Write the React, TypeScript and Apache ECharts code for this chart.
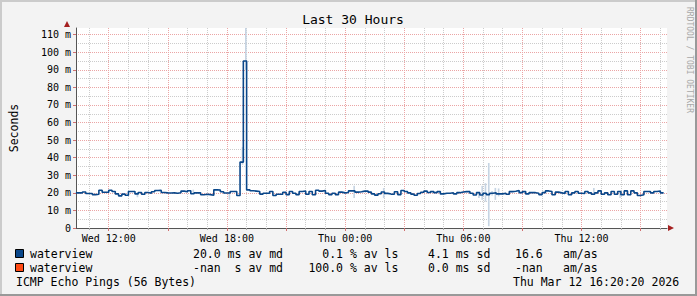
import React, { useEffect, useRef } from 'react';
import * as echarts from 'echarts';

// time axis in hours since Wed 00:00
const AXIS_MIN = 10 + 20 / 60 + 20 / 3600; // Wed 10:20:20
const AXIS_MAX = AXIS_MIN + 30; // Thu 16:20:20
const FIRST_SAMPLE_HOUR = 10 + 20 / 60;
const STEP_HOURS = 10 / 60;

const medianMs = [
  20.0,
  20.0, 20.0, 20.5, 19.6, 19.6, 19.0, 19.2, 21.5, 20.3, 20.4, 21.5, 20.8, 19.4, 18.3, 19.3, 18.6, 20.8, 20.8,
  19.4, 20.2, 19.2, 20.2, 19.8, 20.6, 21.3, 21.4, 20.2, 20.0, 19.9, 20.0, 19.8, 20.1, 21.0, 20.6, 21.2, 19.5,
  20.0, 20.0, 18.9, 19.2, 19.0, 18.6, 21.7, 21.6, 20.6, 19.9, 20.0, 20.8, 20.8, 18.5, 37.5, 95.0, 21.7, 21.2,
  21.0, 20.8, 19.3, 19.8, 19.8, 20.8, 18.5, 19.2, 19.2, 20.3, 19.0, 20.8, 19.8, 19.0, 20.8, 21.1, 19.2, 20.8, 18.9,
  21.5, 21.0, 21.3, 19.8, 19.0, 19.8, 19.0, 20.4, 20.0, 20.2, 21.1, 21.1, 20.4, 20.6, 21.0, 21.0, 20.4,
  19.4, 18.7, 19.5, 20.5, 19.7, 19.3, 19.2, 20.6, 19.0, 21.3, 20.8, 20.0, 19.3, 18.6, 19.6, 20.3, 21.0,
  20.2, 20.7, 20.1, 20.7, 19.4, 19.8, 19.8, 20.1, 19.4, 20.1, 20.5, 20.7, 20.7, 19.8, 18.8, 20.1, 18.8, 19.8,
  19.0, 19.8, 20.1, 19.4, 19.4, 19.8, 19.2, 20.7, 20.9, 21.3, 20.1, 20.7, 19.4, 20.1, 20.1, 19.8, 19.0, 20.1,
  21.1, 20.8, 18.9, 20.4, 20.0, 19.6, 20.8, 18.9, 20.0, 20.8, 19.8, 19.6, 20.8, 20.0, 19.2, 20.0, 21.1, 19.2,
  20.0, 18.9, 20.8, 19.2, 20.8, 18.9, 21.1, 18.9, 21.1, 20.0, 18.5, 18.9, 20.8, 20.8, 20.0, 20.8, 21.1, 20.0,
];

// visible ping spread ("smoke"), per sample index
const smokeIndex = [19, 36, 47, 51, 52, 85, 94, 123, 124, 125, 126, 127, 128, 129, 158, 166];
const smokeLow = [17.5, 19.5, 16.0, 36.0, 90.0, 17.0, 17.0, 17.0, 16.0, 15.0, 1.0, 18.5, 16.0, 18.0, 19.0, 17.0];
const smokeHigh = [20.5, 21.8, 20.5, 46.0, 150.0, 24.0, 22.7, 20.5, 24.0, 25.5, 37.0, 21.0, 22.8, 22.5, 22.7, 21.0];

const Y_MAX = 113.8;
const majorHours = [12, 15, 18, 21, 24, 27, 30, 33, 36, 39];
const minorHours = [11, 13, 14, 16, 17, 19, 20, 22, 23, 25, 26, 28, 29, 31, 32, 34, 35, 37, 38, 40];
const labelHours = [12, 18, 24, 30, 36];
const labelTexts = ['Wed 12:00', 'Wed 18:00', 'Thu 00:00', 'Thu 06:00', 'Thu 12:00'];

const TITLE = 'Last 30 Hours';
const Y_NAME = 'Seconds';
const CREDIT = 'RRDTOOL / TOBI OETIKER';
const legendName = ['waterview', 'waterview'];
const legendColor = ['#0a478a', '#ff4a14'];
const legendMd = ['20.0 ms av md', '-nan  s av md'];
const legendLoss = ['0.1', '100.0'];
const legendSd = ['4.1 ms sd', '0.0 ms sd'];
const legendAm = ['16.6', '-nan'];
const FOOTER_LEFT = 'ICMP Echo Pings (56 Bytes)';
const FOOTER_RIGHT = 'Thu Mar 12 16:20:20 2026';

const MONO = 'DejaVu Sans Mono';

export default function App() {
  const ref = useRef<HTMLDivElement>(null);
  useEffect(() => {
    const chart = echarts.init(ref.current!, null, { renderer: 'svg' });
    const lineData = medianMs.map((v, i) => [FIRST_SAMPLE_HOUR + i * STEP_HOURS, v]);
    const smokeData = smokeIndex.map((idx, k) => [FIRST_SAMPLE_HOUR + idx * STEP_HOURS, smokeLow[k], smokeHigh[k]]);
    const txt = (x: number, y: number, text: string, extra: any = {}) => ({
      type: 'text', x, y, silent: true,
      style: { text, fill: '#000', font: `11.5px "${MONO}"`, textVerticalAlign: 'middle', ...extra },
    });
    const graphics: any[] = [
      { type: 'rect', shape: { x: 0, y: 0, width: 697, height: 2 }, style: { fill: '#cbcbcb' }, z: -1 },
      { type: 'rect', shape: { x: 0, y: 0, width: 2, height: 296 }, style: { fill: '#cbcbcb' }, z: -1 },
      { type: 'rect', shape: { x: 0, y: 294, width: 697, height: 2 }, style: { fill: '#999999' }, z: -1 },
      { type: 'rect', shape: { x: 695, y: 0, width: 2, height: 296 }, style: { fill: '#999999' }, z: -1 },
      { type: 'polygon', shape: { points: [[67, 21], [70, 27], [64, 27]] }, style: { fill: '#a52020' }, z: 10 },
      { type: 'polygon', shape: { points: [[674, 228], [668, 225], [668, 231]] }, style: { fill: '#a52020' }, z: 10 },
      {
        type: 'text', x: 689, y: 60, rotation: -Math.PI / 2, silent: true,
        style: { text: CREDIT, fill: '#a8a8a8', font: `8px "${MONO}"`, align: 'center', verticalAlign: 'middle' },
      },
      txt(16, 282, FOOTER_LEFT),
      txt(513, 282, FOOTER_RIGHT),
    ];
    [254, 268].forEach((y, r) => {
      graphics.push({
        type: 'rect', shape: { x: 15.5, y: y - 4.5, width: 8, height: 8 },
        style: { fill: legendColor[r], stroke: '#000', lineWidth: 1 },
      });
      graphics.push(txt(30, y, legendName[r]));
      graphics.push(txt(193, y, legendMd[r]));
      graphics.push(txt(343, y, legendLoss[r], { align: 'right' }));
      graphics.push(txt(350, y, '% av ls'));
      graphics.push(txt(428, y, legendSd[r]));
      graphics.push(txt(515, y, legendAm[r]));
      graphics.push(txt(563, y, 'am/as'));
    });

    chart.setOption({
      animation: false,
      backgroundColor: '#f3f3f3',
      title: {
        text: TITLE, left: 348, top: 8, textAlign: 'center',
        textStyle: { fontFamily: MONO, fontSize: 13, fontWeight: 'normal', color: '#000' },
      },
      grid: { left: 67, top: 28, width: 600, height: 200, show: true, backgroundColor: '#ffffff', borderWidth: 0 },
      xAxis: [
        {
          type: 'value', min: AXIS_MIN, max: AXIS_MAX, position: 'bottom',
          axisLine: { show: true, lineStyle: { color: '#555', width: 1 } },
          axisTick: { show: true, length: 3, customValues: majorHours, lineStyle: { color: '#d07070' } },
          axisLabel: {
            customValues: labelHours, margin: 5, fontFamily: MONO, fontSize: 10, color: '#000',
            formatter: (v: number) => { const k = labelHours.indexOf(Math.round(v)); return k >= 0 ? labelTexts[k] : ''; },
          },
          splitLine: { show: true, lineStyle: { color: '#eba5a5', type: [1, 1], width: 1 } },
        },
        {
          type: 'value', min: AXIS_MIN, max: AXIS_MAX, position: 'bottom',
          axisLine: { show: false },
          axisTick: { show: true, length: 2, customValues: minorHours, lineStyle: { color: '#aaa' } },
          axisLabel: { show: false, customValues: minorHours },
          splitLine: { show: true, lineStyle: { color: '#cccccc', type: [1, 1], width: 1 } },
        },
      ],
      yAxis: {
        type: 'value', min: 0, max: Y_MAX, interval: 10,
        name: Y_NAME, nameLocation: 'middle', nameGap: 56, nameRotate: 90,
        nameTextStyle: { fontFamily: MONO, fontSize: 11.5, color: '#000' },
        axisLine: { show: true, lineStyle: { color: '#555', width: 1 } },
        axisTick: { show: true, length: 3, lineStyle: { color: '#d07070' } },
        axisLabel: {
          margin: 5, fontFamily: MONO, fontSize: 10, color: '#000', showMaxLabel: false,
          formatter: (v: number) => (v === 0 ? '0' : `${Math.round(v)} m`),
        },
        splitLine: { show: true, showMaxLine: false, lineStyle: { color: '#eba5a5', type: [1, 1], width: 1 } },
        minorTick: { show: false, splitNumber: 2 },
        minorSplitLine: { show: true, lineStyle: { color: '#cccccc', type: [1, 1], width: 1 } },
      },
      series: [
        {
          type: 'custom', clip: true, xAxisIndex: 0,
          data: smokeData,
          encode: { x: 0, y: [1, 2] },
          renderItem: (params: any, api: any) => {
            const t = api.value(0), lo = api.value(1), hi = api.value(2);
            const a = api.coord([t - STEP_HOURS / 2, hi]);
            const b = api.coord([t, lo]);
            return {
              type: 'rect',
              shape: { x: a[0], y: a[1], width: b[0] - a[0], height: b[1] - a[1] },
              style: { fill: '#c6d4e3' },
            };
          },
          z: 2,
        },
        {
          type: 'line', xAxisIndex: 0, data: lineData, step: 'start', showSymbol: false,
          lineStyle: { color: legendColor[0], width: 1.6 }, z: 3,
        },
      ],
      graphic: graphics,
    });
    return () => chart.dispose();
  }, []);
  return <div ref={ref} style={{ position: 'absolute', left: 0, top: 0, width: 697, height: 296 }} />;
}
